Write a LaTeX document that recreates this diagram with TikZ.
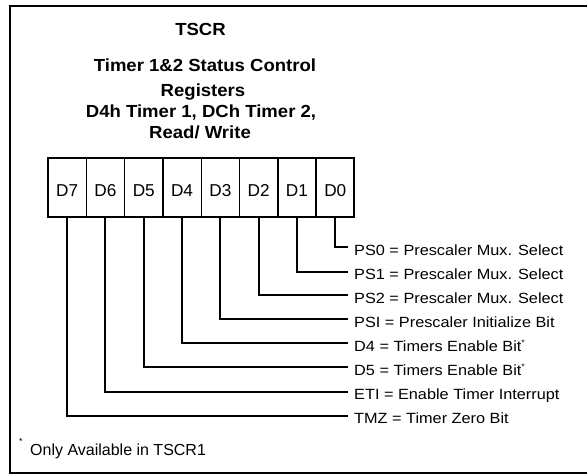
\documentclass[tikz,border=0pt]{standalone}
\usepackage{fontspec}
\setmainfont{Liberation Sans}
\newfontfamily\lblfont[FakeStretch=1.1]{Liberation Sans}
\newfontfamily\ttlfont[FakeStretch=1.06]{Liberation Sans}
\newcommand{\sstar}{\raisebox{6pt}{\fontsize{8}{8}\selectfont *}}
\tikzset{
  frameline/.style={line width=2pt, line cap=rect},
  cell/.style={draw, line width=1.4pt, minimum width=38.3pt, minimum height=59pt,
     inner sep=0pt, text height=18.2pt, text depth=0pt,
     font=\fontsize{17.2}{18}\selectfont},
  conn/.style={line width=2pt},
  lbl/.style={anchor=west, inner sep=0pt, text height=10.6pt, text depth=0pt,
     font=\lblfont\fontsize{14.8}{16}\selectfont},
  ttl/.style={anchor=base, inner sep=0pt, font=\ttlfont\bfseries\fontsize{17.5}{20}\selectfont}
}
\begin{document}
\begin{tikzpicture}[x=1pt,y=-1pt]
\useasboundingbox (0,0) rectangle (587,474);
% frame (open on the right)
\draw[frameline] (588,5.5) -- (10,5.5) -- (10,472.5) -- (588,472.5);
% titles
\node[ttl] (t0) at (200.5,35) {TSCR};
\node[ttl] (t1) at (205,71.7) {Timer 1\&2 Status Control};
\node[ttl] (t2) at (203,96) {Registers};
\node[ttl] (t3) at (201,117.7) {D4h Timer 1, DCh Timer 2,};
\node[ttl] (t4) at (200,138.3) {Read/ Write};
% bit cells
\foreach \i/\n in {7/0,6/1,5/2,4/3,3/4,2/5,1/6,0/7}{
  \node[cell] (b\i) at ({48+38.3*\n+19.15},187.5) {D\i};
}
\draw[line width=2pt] (48,158) rectangle (354.4,217);
% end coordinates of connectors and labels
\foreach \i/\y in {0/247.3,1/271.5,2/295.3,3/319.3,4/343.3,5/367.3,6/391.5,7/415.7}{
  \coordinate (e\i) at (348,\y);
}
\node[lbl] (l0) at (354,249.7) {PS0 = Prescaler Mux. Select};
\node[lbl] (l1) at (354,273.9) {PS1 = Prescaler Mux. Select};
\node[lbl] (l2) at (354,297.7) {PS2 = Prescaler Mux. Select};
\node[lbl] (l3) at (354,321.7) {PSI = Prescaler Initialize Bit};
\node[lbl] (l4) at (354,345.7) {D4 = Timers Enable Bit\sstar};
\node[lbl] (l5) at (354,369.7) {D5 = Timers Enable Bit\sstar};
\node[lbl] (l6) at (354,393.9) {ETI = Enable Timer Interrupt};
\node[lbl] (l7) at (354,418.1) {TMZ = Timer Zero Bit};
\foreach \i in {0,...,7}{
  \draw[conn] (b\i.south) |- (e\i);
}
% footnote
\node[anchor=base, inner sep=0pt, font=\fontsize{9}{9}\selectfont] (fs) at (21,444) {*};
\node[anchor=base west, inner sep=0pt, font=\fontsize{16}{18}\selectfont] (fn) at (30,455) {Only Available in TSCR1};
\end{tikzpicture}
\end{document}
